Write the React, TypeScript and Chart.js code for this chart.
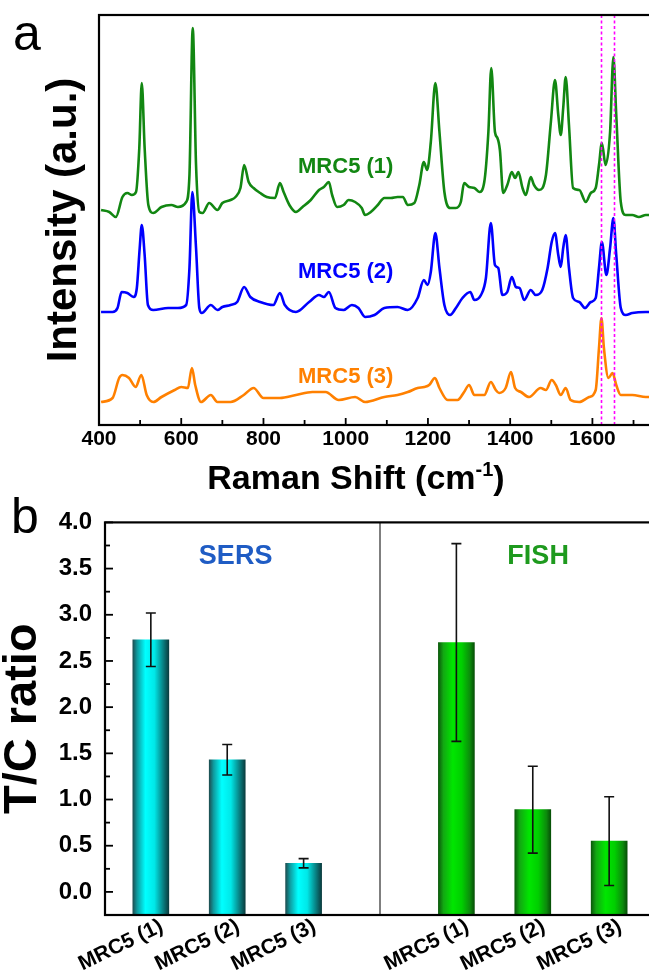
import React, { useEffect, useRef } from "react";
import { Chart, registerables } from "chart.js";

Chart.register(...registerables);

const FONT = "'Liberation Sans', Arial, Helvetica, sans-serif";

// ---------- Panel a : Raman spectra (offset stacked, arbitrary units) ----------
const seriesNames = ["MRC5 (1)", "MRC5 (2)", "MRC5 (3)"];

const shift1 = [
  405, 425, 441, 457, 469, 480, 490, 498, 504, 511,
  520, 532, 552, 576, 592, 612, 620, 628, 636, 644,
  652, 668, 688, 700, 720, 732, 744, 753, 764, 776,
  792, 808, 828, 840, 849, 863, 879, 895, 915, 935,
  947, 959, 967, 979, 995, 1007, 1023, 1039, 1047, 1061,
  1078, 1094, 1110, 1126, 1139, 1151, 1167, 1179, 1190, 1198,
  1207, 1218, 1228, 1240, 1254, 1268, 1280, 1288, 1300, 1313,
  1325, 1337, 1347, 1354, 1363, 1369, 1375, 1383, 1393, 1404,
  1412, 1420, 1430, 1438, 1450, 1458, 1470, 1487, 1499, 1509,
  1517, 1523, 1529, 1535, 1543, 1553, 1568, 1584, 1596, 1608,
  1616, 1623, 1632, 1643, 1651, 1658, 1669, 1681, 1697, 1713,
  1730, 1760,
];
const intensity1 = [
  215, 213, 208, 228, 232, 230, 233, 277, 342, 277,
  220, 212, 218, 220, 218, 223, 250, 397, 260, 213,
  212, 222, 215, 222, 225, 228, 237, 260, 243, 237,
  232, 228, 227, 242, 233, 220, 213, 218, 225, 235,
  238, 243, 230, 218, 220, 225, 223, 217, 210, 213,
  220, 227, 227, 228, 228, 220, 222, 240, 263, 255,
  283, 342, 293, 233, 217, 217, 223, 242, 238, 237,
  233, 243, 293, 357, 293, 287, 275, 232, 240, 253,
  247, 253, 237, 230, 248, 240, 235, 250, 303, 345,
  310, 290, 317, 348, 300, 237, 235, 223, 232, 237,
  260, 282, 260, 293, 368, 310, 223, 210, 210, 208,
  210, 210,
];

const shift2 = [
  405, 433, 445, 455, 469, 484, 492, 499, 504, 511,
  519, 532, 568, 592, 612, 620, 627, 636, 644, 650,
  672, 688, 700, 720, 736, 753, 768, 792, 824, 840,
  852, 879, 911, 935, 947, 959, 975, 995, 1015, 1031,
  1047, 1070, 1094, 1126, 1151, 1175, 1190, 1199, 1207, 1218,
  1228, 1240, 1254, 1268, 1284, 1303, 1313, 1329, 1341, 1353,
  1363, 1371, 1381, 1393, 1404, 1414, 1423, 1434, 1450, 1462,
  1478, 1491, 1501, 1509, 1517, 1523, 1529, 1535, 1543, 1553,
  1568, 1582, 1596, 1608, 1616, 1623, 1634, 1643, 1651, 1658,
  1669, 1681, 1697, 1730, 1760,
];
const intensity2 = [
  113, 113, 117, 133, 132, 128, 137, 177, 200, 170,
  120, 115, 117, 117, 120, 157, 233, 177, 117, 112,
  120, 115, 118, 120, 123, 138, 128, 123, 120, 132,
  120, 113, 123, 130, 128, 133, 117, 115, 120, 117,
  108, 110, 117, 118, 115, 127, 145, 140, 153, 192,
  157, 120, 110, 117, 127, 133, 125, 130, 147, 202,
  160, 157, 130, 133, 148, 138, 137, 125, 135, 130,
  135, 157, 183, 192, 170, 158, 177, 190, 157, 127,
  123, 117, 123, 127, 157, 183, 150, 177, 207, 170,
  117, 110, 112, 113, 113,
];

const shift3 = [
  405, 433, 449, 457, 473, 489, 503, 516, 532, 552,
  584, 600, 616, 626, 634, 648, 672, 688, 720, 752,
  776, 800, 840, 879, 919, 951, 983, 1023, 1047, 1094,
  1126, 1151, 1175, 1191, 1203, 1217, 1228, 1248, 1272, 1288,
  1300, 1313, 1337, 1353, 1365, 1373, 1389, 1402, 1412, 1426,
  1446, 1474, 1487, 1501, 1511, 1523, 1535, 1547, 1568, 1592,
  1608, 1616, 1622, 1628, 1639, 1649, 1658, 1669, 1697, 1730,
  1760,
];
const intensity3 = [
  23, 27, 47, 50, 47, 38, 50, 30, 23, 28,
  35, 38, 37, 57, 40, 23, 30, 23, 23, 30,
  37, 27, 27, 30, 33, 33, 25, 28, 23, 28,
  30, 33, 37, 38, 40, 47, 37, 25, 25, 33,
  40, 30, 30, 43, 35, 32, 37, 53, 37, 33,
  28, 37, 35, 45, 40, 30, 37, 25, 23, 28,
  35, 77, 107, 77, 47, 52, 40, 30, 30, 28,
  28,
];

const ramanTicks = [400, 600, 800, 1000, 1200, 1400, 1600, 1800];
const markerShifts = [1622, 1652];
const labelShift = [1000, 1000, 1000];
const labelLevel = [258, 153, 48];

// ---------- Panel b : T/C ratio bars ----------
const barLabels = ["MRC5 (1)", "MRC5 (2)", "MRC5 (3)"];
const sersPos = [1, 2, 3];
const fishPos = [5, 6, 7];
const dividerPos = 4;
const sersMean = [2.73, 1.43, 0.31];
const sersErr = [0.29, 0.165, 0.05];
const fishMean = [2.7, 0.89, 0.55];
const fishErr = [1.07, 0.47, 0.48];
const ratioTicks = [0, 0.5, 1.0, 1.5, 2.0, 2.5, 3.0, 3.5, 4.0];
const groupTitles = ["SERS", "FISH"];
const groupTitlePos = [2.11, 6.07];
const groupTitleLevel = 3.63;

const GREEN = "#128712";
const BLUE = "#0000ff";
const ORANGE = "#ff8000";

function toPoints(xs: number[], ys: number[]) {
  return xs.map((x, i) => ({ x, y: ys[i] }));
}

const panelAPlugin = {
  id: "panelA",
  afterDatasetsDraw(chart: any) {
    const { ctx, chartArea: a, scales } = chart;
    const xs = scales.x;
    ctx.save();
    ctx.strokeStyle = "#ff00ff";
    ctx.lineWidth = 1.6;
    ctx.setLineDash([3, 2.5]);
    markerShifts.forEach((v) => {
      const px = Math.round(xs.getPixelForValue(v)) + 0.5;
      ctx.beginPath();
      ctx.moveTo(px, a.top);
      ctx.lineTo(px, a.bottom);
      ctx.stroke();
    });
    ctx.restore();
  },
  afterDraw(chart: any) {
    const { ctx, chartArea: a, scales } = chart;
    const xs = scales.x;
    const ys = scales.y;
    ctx.save();
    ctx.strokeStyle = "#000";
    ctx.lineWidth = 2.2;
    ctx.strokeRect(a.left, a.top, a.right - a.left, a.bottom - a.top);
    ctx.lineWidth = 1.8;
    for (let v = 400; v <= 1800; v += 100) {
      const px = xs.getPixelForValue(v);
      const len = v % 200 === 0 ? 7 : 5;
      ctx.beginPath();
      ctx.moveTo(px, a.bottom);
      ctx.lineTo(px, a.bottom - len);
      ctx.stroke();
    }
    const colors = [GREEN, BLUE, ORANGE];
    ctx.font = `bold 22px ${FONT}`;
    ctx.textAlign = "center";
    ctx.textBaseline = "middle";
    seriesNames.forEach((n, i) => {
      ctx.fillStyle = colors[i];
      ctx.fillText(n, xs.getPixelForValue(labelShift[i]), ys.getPixelForValue(labelLevel[i]));
    });
    const main = "Raman Shift (cm";
    const sup = "-1";
    const end = ")";
    ctx.fillStyle = "#000";
    ctx.textAlign = "left";
    ctx.textBaseline = "alphabetic";
    ctx.font = `bold 34px ${FONT}`;
    const w1 = ctx.measureText(main).width;
    const w3 = ctx.measureText(end).width;
    ctx.font = `bold 20px ${FONT}`;
    const w2 = ctx.measureText(sup).width;
    const cx = (a.left + xs.getPixelForValue(1650)) / 2;
    const start = cx - (w1 + w2 + w3) / 2;
    const base = a.bottom + 64;
    ctx.font = `bold 34px ${FONT}`;
    ctx.fillText(main, start, base);
    ctx.font = `bold 20px ${FONT}`;
    ctx.fillText(sup, start + w1, base - 13);
    ctx.font = `bold 34px ${FONT}`;
    ctx.fillText(end, start + w1 + w2, base);
    ctx.font = `50px ${FONT}`;
    ctx.fillText("a", 13, 50);
    ctx.restore();
  },
};

const panelBPlugin = {
  id: "panelB",
  beforeDatasetsDraw(chart: any) {
    const { ctx, chartArea: a, scales } = chart;
    const px = scales.x.getPixelForValue(dividerPos);
    ctx.save();
    ctx.strokeStyle = "#555";
    ctx.lineWidth = 1.5;
    ctx.beginPath();
    ctx.moveTo(px, a.top);
    ctx.lineTo(px, a.bottom);
    ctx.stroke();
    ctx.restore();
  },
  afterDatasetsDraw(chart: any) {
    const { ctx, scales } = chart;
    const xs = scales.x;
    const ys = scales.y;
    const groups = [
      [sersPos, sersMean, sersErr],
      [fishPos, fishMean, fishErr],
    ];
    ctx.save();
    ctx.strokeStyle = "#111";
    ctx.lineWidth = 1.6;
    groups.forEach(([pos, mean, err]) => {
      pos.forEach((p, i) => {
        const x = xs.getPixelForValue(p);
        const t = ys.getPixelForValue(mean[i] + err[i]);
        const b = ys.getPixelForValue(mean[i] - err[i]);
        ctx.beginPath();
        ctx.moveTo(x, t);
        ctx.lineTo(x, b);
        ctx.moveTo(x - 5, t);
        ctx.lineTo(x + 5, t);
        ctx.moveTo(x - 5, b);
        ctx.lineTo(x + 5, b);
        ctx.stroke();
      });
    });
    ctx.restore();
  },
  afterDraw(chart: any) {
    const { ctx, chartArea: a, scales } = chart;
    const xs = scales.x;
    const ys = scales.y;
    ctx.save();
    ctx.strokeStyle = "#000";
    ctx.lineWidth = 2.2;
    ctx.strokeRect(a.left, a.top, a.right - a.left, a.bottom - a.top);
    ctx.lineWidth = 1.8;
    for (let k = 0; k <= 16; k++) {
      const v = k * 0.25;
      const py = ys.getPixelForValue(v);
      const len = k % 2 === 0 ? 8 : 5;
      ctx.beginPath();
      ctx.moveTo(a.left, py);
      ctx.lineTo(a.left + len, py);
      ctx.stroke();
    }
    const cols = ["#1f5cc4", "#1e9a1e"];
    ctx.font = `bold 27px ${FONT}`;
    ctx.textAlign = "center";
    ctx.textBaseline = "middle";
    groupTitles.forEach((t, i) => {
      ctx.fillStyle = cols[i];
      ctx.fillText(t, xs.getPixelForValue(groupTitlePos[i]), ys.getPixelForValue(groupTitleLevel));
    });
    ctx.fillStyle = "#000";
    ctx.textAlign = "left";
    ctx.textBaseline = "alphabetic";
    ctx.font = `50px ${FONT}`;
    ctx.fillText("b", 11, 38);
    ctx.restore();
  },
};

function barGradient(kind: "cyan" | "green") {
  return (c: any) => {
    const chart = c.chart;
    const fallback = kind === "cyan" ? "#00e5e5" : "#00cc00";
    if (!chart.chartArea || c.type !== "data" || !c.parsed) return fallback;
    const cx = chart.scales.x.getPixelForValue(c.parsed.x);
    const g = chart.ctx.createLinearGradient(cx - 18, 0, cx + 18, 0);
    if (kind === "cyan") {
      g.addColorStop(0, "#1d4f52");
      g.addColorStop(0.12, "#0f9a9e");
      g.addColorStop(0.35, "#00ffff");
      g.addColorStop(0.6, "#00e8e8");
      g.addColorStop(0.85, "#087c7e");
      g.addColorStop(1, "#0a3c3e");
    } else {
      g.addColorStop(0, "#0b5a0b");
      g.addColorStop(0.14, "#12a812");
      g.addColorStop(0.4, "#00e600");
      g.addColorStop(0.65, "#00cf00");
      g.addColorStop(0.88, "#0c8a0c");
      g.addColorStop(1, "#075007");
    }
    return g;
  };
}

export default function App() {
  const refA = useRef<HTMLCanvasElement | null>(null);
  const refB = useRef<HTMLCanvasElement | null>(null);

  useEffect(() => {
    const lineCommon = { borderWidth: 2.6, pointRadius: 0, fill: false, cubicInterpolationMode: "monotone" as const };
    const chartA = new Chart(refA.current as HTMLCanvasElement, {
      type: "line",
      data: {
        datasets: [
          { label: seriesNames[0], data: toPoints(shift1, intensity1), borderColor: GREEN, ...lineCommon },
          { label: seriesNames[1], data: toPoints(shift2, intensity2), borderColor: BLUE, ...lineCommon },
          { label: seriesNames[2], data: toPoints(shift3, intensity3), borderColor: ORANGE, ...lineCommon },
        ],
      },
      options: {
        animation: false,
        responsive: false,
        devicePixelRatio: 1,
        layout: { padding: { left: 0, top: 15, right: 24, bottom: 0 } },
        plugins: { legend: { display: false }, tooltip: { enabled: false } },
        scales: {
          x: {
            type: "linear",
            min: 400,
            max: 1800,
            grid: { display: false, drawTicks: false },
            border: { display: false },
            afterBuildTicks: (s: any) => {
              s.ticks = ramanTicks.map((v) => ({ value: v }));
            },
            afterFit: (s: any) => {
              s.height = 75;
            },
            ticks: {
              autoSkip: false,
              maxRotation: 0,
              padding: 2,
              color: "#000",
              font: { family: FONT, size: 21, weight: "bold" },
              callback: (v: any) => String(v),
            },
          },
          y: {
            type: "linear",
            min: 0,
            max: 410,
            grid: { display: false, drawTicks: false },
            border: { display: false },
            ticks: { display: false },
            afterFit: (s: any) => {
              s.width = 99;
            },
            title: {
              display: true,
              text: "Intensity (a.u.)",
              color: "#000",
              font: { family: FONT, size: 42, weight: "bold", lineHeight: 1.2 },
              padding: { top: 39, bottom: 0 },
            },
          },
        },
      } as any,
      plugins: [panelAPlugin],
    });

    const chartB = new Chart(refB.current as HTMLCanvasElement, {
      type: "bar",
      data: {
        datasets: [
          {
            label: "SERS",
            data: toPoints(sersPos, sersMean),
            backgroundColor: barGradient("cyan"),
            base: -0.25,
            barThickness: 36,
            grouped: false,
            borderWidth: 0,
          },
          {
            label: "FISH",
            data: toPoints(fishPos, fishMean),
            backgroundColor: barGradient("green"),
            base: -0.25,
            barThickness: 36,
            grouped: false,
            borderWidth: 0,
          },
        ],
      },
      options: {
        animation: false,
        responsive: false,
        devicePixelRatio: 1,
        layout: { padding: { left: 0, top: 15, right: 45, bottom: 0 } },
        plugins: { legend: { display: false }, tooltip: { enabled: false } },
        scales: {
          x: {
            type: "linear",
            min: 0.4,
            max: 7.6,
            offset: false,
            grid: { display: false, drawTicks: false, offset: false },
            border: { display: false },
            afterBuildTicks: (s: any) => {
              s.ticks = [...sersPos, ...fishPos].map((v) => ({ value: v }));
            },
            afterFit: (s: any) => {
              s.height = 63;
            },
            ticks: {
              autoSkip: false,
              minRotation: 26,
              maxRotation: 26,
              padding: -1,
              labelOffset: 11,
              color: "#000",
              font: { family: FONT, size: 21, weight: "bold" },
              callback: (v: any) => {
                const i = sersPos.indexOf(v);
                if (i >= 0) return barLabels[i];
                const j = fishPos.indexOf(v);
                return j >= 0 ? barLabels[j] : "";
              },
            },
          },
          y: {
            type: "linear",
            min: -0.25,
            max: 4,
            grid: { display: false, drawTicks: false },
            border: { display: false },
            afterBuildTicks: (s: any) => {
              s.ticks = ratioTicks.map((v) => ({ value: v }));
            },
            afterFit: (s: any) => {
              s.width = 105;
            },
            ticks: {
              padding: 13,
              color: "#000",
              font: { family: FONT, size: 24, weight: "bold" },
              callback: (v: any) => Number(v).toFixed(1),
            },
            title: {
              display: true,
              text: "T/C ratio",
              color: "#000",
              font: { family: FONT, size: 47, weight: "bold", lineHeight: 1 },
              padding: { top: 0, bottom: 0 },
            },
          },
        },
      } as any,
      plugins: [panelBPlugin],
    });

    return () => {
      chartA.destroy();
      chartB.destroy();
    };
  }, []);

  return (
    <div
      style={{
        position: "fixed",
        left: 0,
        top: 0,
        width: 649,
        height: 978,
        overflow: "hidden",
        background: "#fff",
      }}
    >
      <canvas
        ref={refA}
        width={700}
        height={500}
        style={{ position: "absolute", left: 0, top: 0, width: 700, height: 500, display: "block" }}
      />
      <canvas
        ref={refB}
        width={700}
        height={483}
        style={{ position: "absolute", left: 0, top: 495, width: 700, height: 483, display: "block" }}
      />
    </div>
  );
}
